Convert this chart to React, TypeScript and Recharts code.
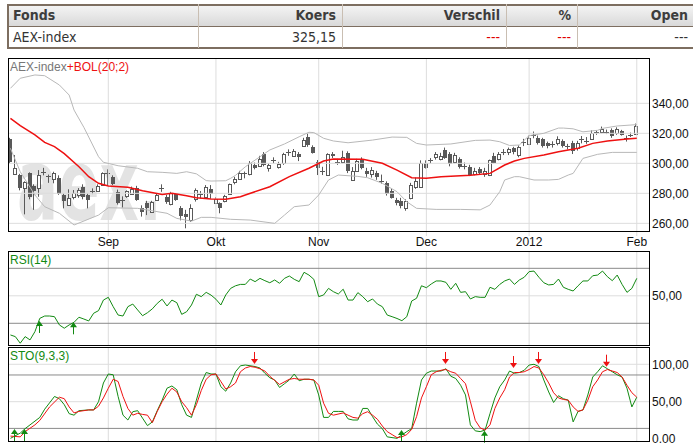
import React from "react";
import { ComposedChart, Bar, Line, XAxis, YAxis, ReferenceLine, ReferenceDot } from "recharts";

const FONT = '"Liberation Sans", Arial, sans-serif';
const NARROW = '"Liberation Sans Narrow", "Arial Narrow", "DejaVu Sans Condensed", sans-serif';

// quote table
const tableCols = ["Fonds", "Koers", "Verschil", "%", "Open"];
const tableRow = ["AEX-index", "325,15", "---", "---", "---"];
const tableRowColors = ["#333", "#333", "#e00000", "#e00000", "#333"];
const colEdges = [7, 198, 342, 506, 577, 694];

// trading days 4 Aug 2011 .. 1 Feb 2012 (two empty slots at the end)
const SLOTS = 131;
const monthIdx = [20, 42, 63, 85, 106, 128];
const monthLbl = ["Sep", "Okt", "Nov", "Dec", "2012", "Feb"];

const opens = [
  316, 293, 292, 283.5, 293.5, 285, 283.5, 294.3, 292, 289.3, 290, 279, 272.2, 278, 279, 284.4, 279, 281, 282, 285.5,
  293, 291, 281, 275.5, 278, 280, 283.3, 270.5, 273.5, 268, 275.5, 283.5, 277.5, 273, 279.3, 270, 266.5, 262.2, 276, 279.5,
  277.5, 283, 274, 273.3, 275, 279.5, 287, 289.5, 293, 292.7, 299, 298.5, 306.2, 296.7, 302, 297.5, 300, 307, 305.5, 306,
  311.7, 317.7, 311, 301, 294.5, 292.2, 306.5, 301, 300.4, 306.7, 289.3, 295, 302.7, 295, 292.7, 293.7, 288.5, 287, 281.7, 275.5,
  275, 270.7, 276.7, 284.4, 284.5, 300.4, 301.8, 303.7, 302.7, 309, 306.2, 301, 302.7, 298.5, 297.7, 293, 296.2, 292.7, 292.2, 305,
  302.7, 307.5, 307, 310, 305.5, 314, 313.3, 318.8, 317, 316, 313.7, 312.5, 313.3, 315, 312, 313.3, 310, 316, 315, 316.7,
  320.5, 320.7, 321, 322.2, 320, 321.7, 317, 318.8, 320,
];
const highs = [
  317, 305.5, 293, 288, 294, 286, 295.5, 297, 292.5, 294.4, 292, 280, 282.7, 282.2, 283.5, 286, 280, 283.3, 286, 294,
  296, 292, 282.5, 278, 282, 284.5, 285, 272, 275, 275, 280, 286, 279, 281, 280, 271.5, 269, 272.7, 283.3, 281.5,
  285.5, 285.5, 277.5, 274, 279, 286.5, 291, 295, 294.5, 301.5, 300.5, 305, 307.5, 300, 304, 301, 307, 309.3, 309.5, 307.5,
  317, 320, 312, 302.2, 297.7, 306.7, 307.5, 303, 308.4, 308, 297.5, 303, 304, 297, 297.5, 295, 292.5, 288, 283, 277,
  277, 276, 287, 290.5, 302, 302, 303.5, 307.5, 307, 310.5, 307.5, 307, 304, 300.5, 299, 297, 297.5, 297, 302.5, 307,
  307.5, 309.5, 310.5, 311, 312, 316.3, 318.5, 321.2, 318.5, 317, 314.5, 314.7, 318, 316, 313, 315, 315, 318.2, 317.5, 322,
  322, 324.5, 322.5, 323.3, 324, 322.3, 318.5, 320.5, 326.5,
];
const lows = [
  300, 293, 282, 266, 276, 269, 277.7, 292, 287, 286.7, 279, 270, 272, 276, 277, 276, 270, 279.5, 281, 285,
  285.5, 285.5, 272.5, 270.5, 277, 279, 275, 264.5, 265.5, 267.5, 275, 281, 273, 272, 275, 262, 256.7, 261, 274.5, 276.7,
  276.5, 276.5, 273, 266.7, 274, 279, 286, 289, 290, 292, 296, 298, 298, 294.5, 300, 296.5, 299, 305, 304.5, 301.5,
  311, 311, 306.5, 292.2, 292.2, 292, 303.5, 299, 300, 293.5, 288.8, 294.5, 296, 291, 290.5, 289, 286.5, 278.5, 276.5, 272,
  270, 268.4, 276, 283, 284, 296.5, 300, 302.5, 302, 303, 298, 300, 296.5, 296, 291.5, 292, 292.5, 291, 291.5, 300,
  302, 305.5, 305.5, 306, 304, 311.5, 312.5, 316.7, 312.5, 310.5, 310, 310.5, 312, 310.5, 309.3, 306.2, 308.5, 313.3, 313, 316,
  319, 320, 319.5, 317, 319, 318.5, 314.5, 317.5, 319.5,
];
const closes = [
  300.5, 296.7, 283.5, 287.7, 277.3, 282, 292.2, 294.8, 291.5, 293.3, 279.5, 275, 277.1, 280.5, 282, 277.7, 276, 281.5, 285, 293.3,
  293.5, 286.2, 273.5, 275, 281.5, 283, 275.5, 268, 270, 274.4, 279, 284, 274.4, 280.5, 275.5, 264.4, 264.5, 270, 282.2, 279,
  284.4, 280, 276.5, 270, 278.2, 286.2, 289.3, 293.7, 293.5, 300, 296.7, 302.9, 299, 299, 302.3, 299.5, 306, 307.5, 308.5, 303.7,
  315.5, 312.2, 307.3, 296.7, 295, 306.5, 305, 301.3, 304, 294.4, 295.1, 301.5, 296.7, 293.3, 295.5, 291, 288.3, 279.5, 277.3, 273.3,
  271.5, 275.1, 285.5, 288.2, 300.4, 297.3, 302.2, 306, 305, 304, 299.5, 305.5, 297.3, 298.3, 292.2, 295, 293.7, 294.9, 302.2, 300.4,
  306, 307.8, 309.3, 307.1, 311.1, 314.3, 317.1, 319.2, 314, 311.5, 311.5, 312.8, 316, 311.5, 311.5, 307.7, 313.3, 316.3, 315.3, 320.4,
  320.8, 322.9, 321.3, 318.2, 322.9, 319.3, 317.3, 319.1, 325.15,
];

// BOL(20;2): [day, value] read at the bends
const bolUpper = [
  [0, 350], [2, 356.7], [5, 358.9], [7, 358.4], [10, 352.2], [12, 345.5], [13, 335.5], [15, 324], [16, 317.5], [18, 304.4],
  [19, 300.7], [22, 298.4], [26, 296.7], [28, 294.4], [31, 294], [34, 293.3], [36, 294.4], [38, 293], [40, 288.5], [41, 288.2],
  [44, 288.4], [45, 290], [46, 292], [48, 297.7], [51, 304.4], [53, 308.9], [56, 312.9], [59, 317.7], [61, 320.7], [62, 320.5],
  [64, 316.7], [66, 314.9], [69, 313.7], [74, 315.5], [78, 317.5], [81, 317.3], [83, 313.3], [85, 312.2], [90, 312.9], [95, 315.3],
  [98, 315.5], [100, 314.4], [102, 311.9], [104, 312.2], [106, 318.5], [108, 319.5], [109, 320], [112, 323.5], [113, 323.5], [115, 323],
  [117, 321], [120, 322], [121, 323.3], [124, 324.9], [128, 325.8],
];
const bolMid = [
  [0, 330], [2, 325.1], [5, 318.9], [7, 314], [9, 311.1], [11, 306.5], [14, 297.7], [16, 291.1], [18, 286.7], [20, 284.9],
  [24, 284], [27, 281.7], [31, 279.3], [33, 280], [36, 278.4], [38, 277.1], [41, 276.2], [44, 276], [47, 277.7], [48, 278.9],
  [53, 284.4], [57, 291.1], [61, 296.7], [64, 301.5], [66, 302.9], [72, 302.7], [76, 300], [79, 295.5], [82, 290.4], [85, 290],
  [88, 291.1], [92, 291.7], [94, 292], [98, 293.3], [101, 298.9], [103, 301.5], [105, 303.3], [109, 305.5], [112, 307.7], [116, 310],
  [119, 313.3], [122, 314.9], [126, 316.2], [128, 316.7],
];
const bolLower = [
  [0, 310], [2, 294.4], [5, 278.9], [7, 271.1], [10, 266.7], [13, 258.9], [18, 265.5], [20, 270.4], [26, 270], [32, 266.7],
  [34, 263.3], [37, 261.5], [39, 264], [41, 264], [45, 262.7], [49, 262.2], [54, 260], [56, 265.5], [58, 271.1], [61, 272.2],
  [63, 278.9], [65, 288.9], [67, 292.2], [71, 291.3], [73, 290.4], [76, 286.7], [79, 281.1], [81, 274.4], [83, 270], [87, 269.3],
  [92, 269.3], [96, 269], [98, 272.2], [99, 276.7], [100, 281.1], [101, 288.9], [103, 291.1], [104, 291.1], [107, 288.9], [110, 288.9],
  [112, 289.3], [114, 292.2], [115, 293.3], [117, 303.3], [120, 306], [123, 307.3], [128, 307.3],
];

const rsi14 = [
  21.5, 20.3, 15.5, 20.3, 17.9, 23.9, 33.6, 35.3, 35.3, 34.8, 28.8, 26.4, 28.8, 30.7, 34.4, 33.1, 31.7, 37.3, 39.2, 46.9,
  48.9, 42.1, 36.0, 35.3, 42.1, 44.0, 39.7, 35.5, 37.7, 40.5, 44.5, 47.5, 42.6, 46.9, 45.0, 36.5, 38.4, 43.3, 51.1, 49.4,
  52.5, 50.5, 47.5, 43.3, 50.6, 55.4, 57.3, 58.3, 58.3, 62.2, 60.3, 62.7, 61.0, 59.5, 61.5, 59.1, 62.7, 64.4, 62.0, 60.3,
  67.1, 65.1, 62.0, 49.4, 50.6, 55.4, 53.0, 51.3, 54.8, 46.9, 46.9, 52.3, 49.4, 45.7, 47.7, 44.0, 42.1, 36.0, 34.8, 33.5,
  31.9, 34.8, 46.2, 48.2, 57.3, 55.9, 58.6, 60.8, 60.8, 59.8, 54.7, 59.1, 52.5, 53.0, 47.7, 49.4, 48.9, 48.9, 56.2, 54.7,
  58.3, 60.8, 62.2, 58.3, 61.5, 63.5, 67.6, 68.0, 63.5, 59.5, 57.9, 58.3, 62.2, 56.2, 54.7, 53.5, 57.3, 60.8, 60.8, 64.6,
  65.1, 68.0, 63.9, 61.0, 65.1, 58.3, 52.5, 55.4, 62.7,
];

// STO(9,3,3): %K (green) and %D (red); null where no bend was read
const stoK = [
  1, null, 8, 14, 19, null, 29, 40, null, 57, 54, 46, 34, 32, 38, null, 39, 39, 50, 75,
  87, 86, 57, 32, 25.5, 36.6, 38, 28, 18, 23, 38, 52, 68, 71, 66, 46, 32, 29, 52, 75,
  89, 87, 87, 70, 64, 75, 90, 98, 99, null, 97, 95, 88, 82, 79, 69, 74, 79, 87, 78,
  80, 80, 79, 59, 29, 29, 37, 37, 37, 27, 25.5, 25.5, 41, 41, 30, 20, 14, 3, null, 1,
  5.5, 10, 14, 48, 79, 88, 91, 91, 91, 94, 84, 81, 72, 59, 19, 11, 10, 12, 34, 55,
  70, 79, 91, 88, 89, 92, 99, 100, 97, 79, 63, 49, 58, 54, 52, 23, 37, 39, 59, 83,
  90, 98, 94, 90, 86, 83, 68, 43, 56,
];
const stoD = [
  4, null, 3, 10, null, 19, 25, null, 43, null, 56, 54, 43, 35, 37, 38, 39, 39, 44, 55,
  68, 80, 77, 57, 41, 32, 34.5, 33, 32, 22, 37, 50, 60, 68, 63, 50, 42, 32, 46, 65,
  80, 86, 87, 77, 67, 70, 75, 90, 95, 97, 96, 94, 91, 84, null, 73, null, 80, 81, 80,
  null, 80, 79, 72, 48, 34.5, 32, null, 35, 32, 29, 28, 34, 36.6, 32, 26.5, 17.5, 10, 6, 2,
  3, 6, 13, 30, 55, 70, 86, 90, 92, 93, 90, 88, 81, 74, 50, 25, 15, 12, 19, 41,
  55, 66, 83, 89, 89, 90, 93, 97, 95, 86, 75, 62, 55, 53, 52, 43, 37, 39, 52, 70,
  79, 90, 93, 91, 89, 83, 72, 62, 56,
];

// signal arrows: [day, value at arrow tip]
const rsiBuy = [[6, 31.7], [13, 30.7]];
const stoBuy = [[1, 13.5], [3, 13.5], [80, 12.2], [97, 11.2]];
const stoSell = [[50, 100.4], [89, 100.4], [103, 95], [108, 100.4], [122, 96.8]];

const rows = Array.from({ length: SLOTS }, (_, i) => {
  const has = i < closes.length;
  return {
    i,
    o: has ? opens[i] : null,
    h: has ? highs[i] : null,
    l: has ? lows[i] : null,
    c: has ? closes[i] : null,
    range: has ? [lows[i], highs[i]] : null,
    up: null as number | null,
    mid: null as number | null,
    lo: null as number | null,
    rsi: has ? rsi14[i] : null,
    k: has ? stoK[i] : null,
    d: has ? stoD[i] : null,
  };
});
bolUpper.forEach(([i, v]) => (rows[i].up = v));
bolMid.forEach(([i, v]) => (rows[i].mid = v));
bolLower.forEach(([i, v]) => (rows[i].lo = v));

const CANDLE = "#595959";
const GRID = "#dddddd";
const LEVEL = "#8a8a8a";
const GREEN = "#128a12";
const RED = "#ee1111";

const fmt = (v: number) => v.toFixed(2).replace(".", ",");
const tickStyle = { fontSize: 12, fill: "#111", fontFamily: FONT };

function Candle(props: any) {
  const { x, y, width, height, payload } = props;
  if (!payload || payload.o == null || !Number.isFinite(y) || !Number.isFinite(height)) return null;
  const { o, h, l, c } = payload;
  const top = Math.min(y, y + height);
  const span = Math.abs(height);
  const ppu = h > l ? span / (h - l) : 0;
  const py = (v: number) => top + (h - v) * ppu;
  const cx = Math.round(x + width / 2);
  const bTop = py(Math.max(o, c));
  const bBot = py(Math.min(o, c));
  const wick = <line x1={cx - 0.5} x2={cx - 0.5} y1={top} y2={top + span} stroke={CANDLE} strokeWidth={1} />;
  if (bBot - bTop < 1.2) {
    const yy = Math.round((bTop + bBot) / 2) + 0.5;
    return (
      <g>
        {wick}
        <line x1={cx - 3} x2={cx + 2} y1={yy} y2={yy} stroke={CANDLE} strokeWidth={1} />
      </g>
    );
  }
  if (c >= o) {
    return (
      <g>
        {wick}
        <rect x={cx - 1.5} y={Math.round(bTop) + 0.5} width={3} height={Math.max(1, Math.round(bBot - bTop))} fill="#fff" stroke={CANDLE} strokeWidth={1} />
      </g>
    );
  }
  return (
    <g>
      {wick}
      <rect x={cx - 2} y={Math.round(bTop)} width={4} height={Math.max(1, Math.round(bBot - bTop))} fill={CANDLE} />
    </g>
  );
}

function Arrow({ cx, cy, dir, color }: { cx: number; cy: number; dir: "up" | "down"; color: string }) {
  if (!Number.isFinite(cx) || !Number.isFinite(cy)) return null;
  const x = Math.round(cx) - 0.5;
  if (dir === "up") {
    return (
      <g>
        <line x1={x} x2={x} y1={cy + 4} y2={cy + 12} stroke={color} strokeWidth={1} />
        <path d={`M${x},${cy} L${x - 3.5},${cy + 5} L${x + 3.5},${cy + 5} Z`} fill={color} />
      </g>
    );
  }
  return (
    <g>
      <line x1={x} x2={x} y1={cy - 12} y2={cy - 4} stroke={color} strokeWidth={1} />
      <path d={`M${x},${cy} L${x - 3.5},${cy - 5} L${x + 3.5},${cy - 5} Z`} fill={color} />
    </g>
  );
}

function monthLines() {
  return monthIdx.map((m) => <ReferenceLine key={`m${m}`} x={m} stroke={GRID} strokeWidth={1} />);
}

function MainChart() {
  return (
    <ComposedChart width={693} height={193} data={rows} margin={{ top: 0, right: 0, bottom: 0, left: 8 }}>
      <XAxis
        dataKey="i"
        type="category"
        scale="band"
        ticks={monthIdx}
        interval={0}
        tickFormatter={(v) => monthLbl[monthIdx.indexOf(Number(v))] ?? ""}
        axisLine={false}
        tickLine={{ stroke: GRID }}
        tickSize={5}
        tickMargin={1}
        height={20}
        tick={tickStyle}
      />
      <YAxis
        orientation="right"
        width={44}
        domain={[254.9, 370.2]}
        allowDataOverflow
        ticks={[260, 280, 300, 320, 340]}
        tickFormatter={fmt}
        axisLine={false}
        tickLine={false}
        tickSize={0}
        tickMargin={3}
        tick={tickStyle}
      />
      {[260, 280, 300, 320, 340].map((v) => (
        <ReferenceLine key={`h${v}`} y={v} stroke={GRID} strokeWidth={1} />
      ))}
      {monthLines()}
      <Line dataKey="up" stroke="#b8b8b8" strokeWidth={1} dot={false} activeDot={false} connectNulls isAnimationActive={false} />
      <Line dataKey="lo" stroke="#b8b8b8" strokeWidth={1} dot={false} activeDot={false} connectNulls isAnimationActive={false} />
      <Bar dataKey="range" barSize={4} shape={(p: any) => <Candle {...p} />} isAnimationActive={false} />
      <Line dataKey="mid" stroke={RED} strokeWidth={1.5} dot={false} activeDot={false} connectNulls isAnimationActive={false} />
    </ComposedChart>
  );
}

function RsiChart() {
  return (
    <ComposedChart width={693} height={94} data={rows} margin={{ top: 0, right: 0, bottom: 0, left: 8 }}>
      <XAxis dataKey="i" type="category" scale="band" hide />
      <YAxis
        orientation="right"
        width={44}
        domain={[14.2, 82.6]}
        allowDataOverflow
        ticks={[50]}
        tickFormatter={fmt}
        axisLine={false}
        tickLine={false}
        tickSize={0}
        tickMargin={3}
        tick={tickStyle}
      />
      <ReferenceLine y={50} stroke={GRID} strokeWidth={1} />
      {monthLines()}
      <ReferenceLine y={70} stroke={LEVEL} strokeWidth={1} />
      <ReferenceLine y={30} stroke={LEVEL} strokeWidth={1} />
      <Line dataKey="rsi" stroke={GREEN} strokeWidth={1} dot={false} activeDot={false} connectNulls isAnimationActive={false} />
      {rsiBuy.map(([i, v]) => (
        <ReferenceDot key={`rb${i}`} x={i} y={v} r={0} shape={(p: any) => <Arrow cx={p.cx} cy={p.cy} dir="up" color={GREEN} />} />
      ))}
    </ComposedChart>
  );
}

function StoChart() {
  return (
    <ComposedChart width={693} height={104} data={rows} margin={{ top: 0, right: 0, bottom: 10, left: 8 }}>
      <XAxis dataKey="i" type="category" scale="band" hide />
      <YAxis
        orientation="right"
        width={44}
        domain={[-2.54, 123.1]}
        allowDataOverflow
        ticks={[0, 50, 100]}
        tickFormatter={(v) => (Number(v) === 0 ? "0.00" : fmt(Number(v)))}
        axisLine={false}
        tickLine={false}
        tickSize={0}
        tickMargin={3}
        tick={tickStyle}
      />
      <ReferenceLine y={50} stroke={GRID} strokeWidth={1} />
      <ReferenceLine y={100} stroke={GRID} strokeWidth={1} />
      {monthLines()}
      <ReferenceLine y={85.7} stroke={LEVEL} strokeWidth={1} />
      <ReferenceLine y={14.3} stroke={LEVEL} strokeWidth={1} />
      <Line dataKey="k" stroke={GREEN} strokeWidth={1} dot={false} activeDot={false} connectNulls isAnimationActive={false} />
      <Line dataKey="d" stroke={RED} strokeWidth={1} dot={false} activeDot={false} connectNulls isAnimationActive={false} />
      {stoBuy.map(([i, v]) => (
        <ReferenceDot key={`sb${i}`} x={i} y={v} r={0} shape={(p: any) => <Arrow cx={p.cx} cy={p.cy} dir="up" color={GREEN} />} />
      ))}
      {stoSell.map(([i, v]) => (
        <ReferenceDot key={`ss${i}`} x={i} y={v} r={0} shape={(p: any) => <Arrow cx={p.cx} cy={p.cy} dir="down" color={RED} />} />
      ))}
    </ComposedChart>
  );
}

function QuoteTable() {
  const border = "#7d6e60";
  const inner = "#c9beb2";
  return (
    <div style={{ position: "absolute", left: 0, top: 0, width: 693, height: 50 }}>
      <div style={{ position: "absolute", left: 7, top: 4, width: 700, height: 22, background: "linear-gradient(#f6f6f6, #d9d9d9)" }} />
      <div style={{ position: "absolute", left: 7, top: 4, width: 700, height: 0, borderTop: `2px solid ${border}` }} />
      <div style={{ position: "absolute", left: 7, top: 26, width: 700, height: 0, borderTop: `1px solid ${border}` }} />
      <div style={{ position: "absolute", left: 7, top: 47, width: 700, height: 0, borderTop: `2px solid ${border}` }} />
      {tableCols.map((name, c) => {
        const left = colEdges[c];
        const width = colEdges[c + 1] - colEdges[c];
        const align = c === 0 ? "left" : "right";
        return (
          <React.Fragment key={name}>
            <div
              style={{
                position: "absolute",
                left,
                top: 4,
                width,
                height: 44,
                boxSizing: "border-box",
                borderLeft: `${c === 0 ? 2 : 1}px solid ${c === 0 ? border : inner}`,
              }}
            />
            <div
              style={{
                position: "absolute",
                left,
                top: 5,
                width,
                height: 21,
                lineHeight: "21px",
                boxSizing: "border-box",
                padding: "0 6px",
                textAlign: align,
                fontFamily: NARROW,
                fontWeight: "bold",
                fontSize: 14,
                color: "#3d3d3d",
              }}
            >
              {name}
            </div>
            <div
              style={{
                position: "absolute",
                left,
                top: 27,
                width,
                height: 20,
                lineHeight: "20px",
                boxSizing: "border-box",
                padding: "0 6px",
                textAlign: align,
                fontFamily: NARROW,
                fontSize: 14,
                color: tableRowColors[c],
              }}
            >
              {tableRow[c]}
            </div>
          </React.Fragment>
        );
      })}
    </div>
  );
}

export default function App() {
  return (
    <div style={{ position: "absolute", left: 0, top: 0, width: 693, height: 446, background: "#fff", overflow: "hidden", fontFamily: FONT }}>
      <QuoteTable />
      <svg style={{ position: "absolute", left: 0, top: 0 }} width={693} height={446}>
        <text x={17} y={220} fontSize={100} fontWeight="bold" fontFamily={NARROW} fill="#e3e3e3" textLength={145} lengthAdjust="spacingAndGlyphs">
          aex.
        </text>
      </svg>
      <div style={{ position: "absolute", left: 0, top: 58 }}>
        <MainChart />
      </div>
      <div style={{ position: "absolute", left: 0, top: 251 }}>
        <RsiChart />
      </div>
      <div style={{ position: "absolute", left: 0, top: 347 }}>
        <StoChart />
      </div>
      <svg style={{ position: "absolute", left: 0, top: 0, pointerEvents: "none" }} width={693} height={446}>
        <rect x={8.5} y={58.5} width={641} height={173} fill="none" stroke="#000" />
        <rect x={8.5} y={251.5} width={641} height={94} fill="none" stroke="#000" />
        <rect x={8.5} y={347.5} width={641} height={94} fill="none" stroke="#000" />
        <text x={10} y={71} fontSize={12} fontFamily={FONT}>
          <tspan fill="#777">AEX-index</tspan>
          <tspan fill={RED}>+BOL(20;2)</tspan>
        </text>
        <text x={10} y={264} fontSize={12} fontFamily={FONT} fill={GREEN}>
          RSI(14)
        </text>
        <text x={10} y={360} fontSize={12} fontFamily={FONT} fill={GREEN}>
          STO(9,3,3)
        </text>
      </svg>
    </div>
  );
}
